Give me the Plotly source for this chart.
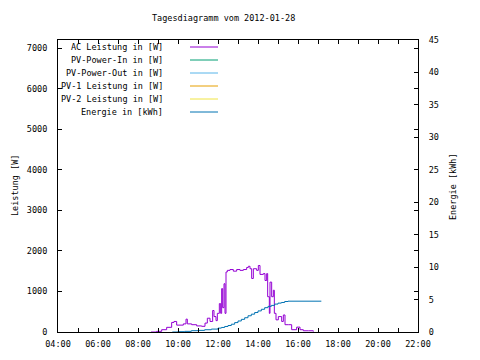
import plotly.graph_objects as go

DAY = "2012-01-28"
title_text = "Tagesdiagramm vom 2012-01-28"

series_names = ["AC Leistung in [W]", "PV-Power-In in [W]", "PV-Power-Out in [W]",
                "PV-1 Leistung in [W]", "PV-2 Leistung in [W]", "Energie in [kWh]"]
series_colors = ["#9400d3", "#009e73", "#56b4e9", "#e69f00", "#f0e442", "#0072b2"]

ac_times = ["08:39", "08:56", "09:11", "09:26", "09:41", "09:48", "09:56", "10:06", "10:16",
            "10:24", "10:28", "10:41", "10:56", "11:11", "11:21", "11:28", "11:36", "11:44",
            "11:48", "11:54", "11:58", "12:04", "12:08", "12:11", "12:14", "12:18", "12:21",
            "12:24", "12:28", "12:36", "12:46", "12:56", "13:06", "13:16", "13:26", "13:31",
            "13:36", "13:41", "13:46", "13:56", "14:01", "14:06", "14:16", "14:21", "14:26",
            "14:29", "14:34", "14:36", "14:41", "14:46", "14:49", "14:54", "15:01", "15:11",
            "15:16", "15:21", "15:31", "15:41", "15:56", "16:06", "16:16", "16:31", "16:46"]
ac_watts = [0, 16, 57, 115, 236, 260, 170, 170, 200,
            317, 200, 180, 150, 140, 220, 340, 260, 530,
            380, 280, 460, 700, 460, 1070, 600, 1190, 460,
            1480, 1520, 1540, 1500, 1540, 1520, 1540, 1590, 1620,
            1560, 1320, 1560, 1520, 1640, 1420, 1440, 1270, 1440,
            870, 460, 1230, 870, 1030, 460, 300, 380, 260,
            420, 180, 180, 57, 120, 57, 30, 30, 10]

pv_in_times, pv_in_watts = [], []
pv_out_times, pv_out_watts = [], []
pv1_times, pv1_watts = [], []
pv2_times, pv2_watts = [], []

energy_times = ["09:43", "10:00", "10:20", "10:40", "11:00", "11:20", "11:40", "12:00",
                "12:10", "12:20", "12:30", "12:40", "12:50", "13:00", "13:10", "13:20",
                "13:30", "13:40", "13:50", "14:00", "14:10", "14:20", "14:30", "14:40",
                "14:50", "15:00", "15:10", "15:20", "15:30", "17:10"]
energy_kwh = [0.0, 0.05, 0.1, 0.2, 0.25, 0.35, 0.45, 0.6,
              0.7, 0.85, 1.0, 1.2, 1.45, 1.7, 1.95, 2.2,
              2.5, 2.75, 3.0, 3.25, 3.5, 3.75, 3.95, 4.1,
              4.3, 4.45, 4.55, 4.7, 4.75, 4.75]

left_ticks = [0, 1000, 2000, 3000, 4000, 5000, 6000, 7000]
right_ticks = [0, 5, 10, 15, 20, 25, 30, 35, 40, 45]

def ts(lst):
    return [f"{DAY} {t}" for t in lst]

FONT = "DejaVu Sans Mono"
FS = 8.5

fig = go.Figure()
power_series = [(ac_times, ac_watts), (pv_in_times, pv_in_watts), (pv_out_times, pv_out_watts),
                (pv1_times, pv1_watts), (pv2_times, pv2_watts)]
for i, (t, v) in enumerate(power_series):
    fig.add_trace(go.Scatter(x=ts(t), y=v, mode="lines", name=series_names[i],
                             line=dict(color=series_colors[i], width=1, shape="hv"),
                             showlegend=False))
fig.add_trace(go.Scatter(x=ts(energy_times), y=energy_kwh, mode="lines", name=series_names[5],
                         line=dict(color=series_colors[5], width=1, shape="hv"),
                         yaxis="y2", showlegend=False))

# page offset of 8px (body margin) is compensated in the figure geometry
OFF = 8
L, R, T, B = 58 - OFF, 418 - OFF, 40 - OFF, 332 - OFF
W, H = 480 - OFF, 360 - OFF

def px(x):
    return (x - OFF - L) / (R - L)

def py(y):
    return (B - (y - OFF)) / (B - T)

annotations = []
shapes = []
row_y = [47, 60, 73, 86, 99, 112]
for i, name in enumerate(series_names):
    annotations.append(dict(x=px(165), y=py(row_y[i]), xref="paper", yref="paper",
                            text=name, showarrow=False, xanchor="right", yanchor="middle",
                            font=dict(family=FONT, size=FS, color="black")))
    shapes.append(dict(type="line", xref="paper", yref="paper",
                       x0=px(190), x1=px(218), y0=py(row_y[i]), y1=py(row_y[i]),
                       line=dict(color=series_colors[i], width=1)))

annotations.append(dict(x=px(223), y=py(18), xref="paper", yref="paper", text=title_text,
                        showarrow=False, xanchor="center", yanchor="middle",
                        font=dict(family=FONT, size=FS, color="black")))
annotations.append(dict(x=px(15), y=py(186), xref="paper", yref="paper", text="Leistung [W]",
                        showarrow=False, textangle=-90, xanchor="center", yanchor="middle",
                        font=dict(family=FONT, size=FS, color="black")))
annotations.append(dict(x=px(453), y=py(187), xref="paper", yref="paper", text="Energie [kWh]",
                        showarrow=False, textangle=-90, xanchor="center", yanchor="middle",
                        font=dict(family=FONT, size=FS, color="black")))

axis_common = dict(showline=True, linecolor="black", linewidth=1, showgrid=False,
                   zeroline=False, ticks="inside", tickcolor="black", tickwidth=1,
                   tickfont=dict(family=FONT, size=FS, color="black"))

fig.update_layout(
    width=W, height=H, autosize=False,
    margin=dict(l=L, r=W - R, t=T, b=H - B, pad=0),
    paper_bgcolor="white", plot_bgcolor="white",
    showlegend=False,
    xaxis=dict(**axis_common, type="date",
               range=[f"{DAY} 04:00", f"{DAY} 22:00"],
               dtick=2 * 3600 * 1000, tick0=f"{DAY} 04:00", tickformat="%H:%M",
               ticklen=4, mirror="allticks", ticklabelstandoff=4,
               minor=dict(dtick=3600 * 1000, ticks="inside", ticklen=2, tickcolor="black")),
    yaxis=dict(**axis_common, range=[0, 7200], tickvals=left_ticks,
               ticktext=[str(v) for v in left_ticks], ticklen=4, mirror="allticks",
               ticklabelstandoff=8),
    yaxis2=dict(**axis_common, overlaying="y", side="right", range=[0, 45],
                tickvals=right_ticks, ticktext=[str(v) for v in right_ticks], ticklen=4,
                ticklabelstandoff=8),
    annotations=annotations, shapes=shapes,
)

fig.write_html("out.html")
